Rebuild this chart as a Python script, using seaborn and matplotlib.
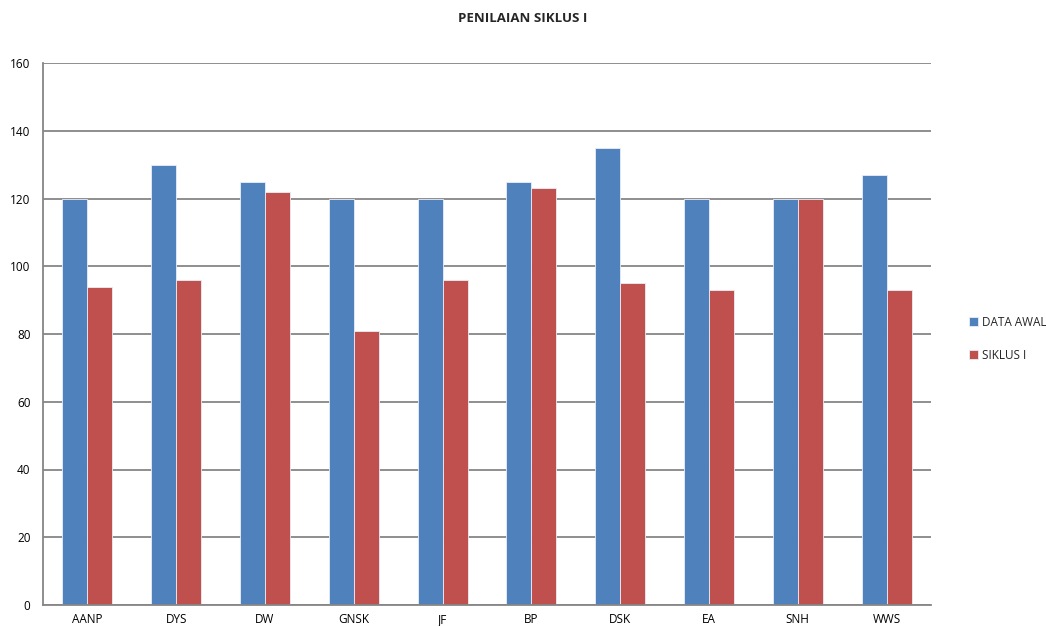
import matplotlib
matplotlib.use("Agg")
import matplotlib.pyplot as plt
import seaborn as sns
import pandas as pd

categories = ["AANP", "DYS", "DW", "GNSK", "JF", "BP", "DSK", "EA", "SNH", "WWS"]
data_awal = [120, 130, 125, 120, 120, 125, 135, 120, 120, 127]
siklus_i = [94, 96, 122, 81, 96, 123, 95, 93, 120, 93]
series_names = ["DATA AWAL", "SIKLUS I"]
colors = ["#4F81BD", "#C0504D"]

df = pd.DataFrame({
    "cat": categories * 2,
    "val": data_awal + siklus_i,
    "series": [series_names[0]] * len(categories) + [series_names[1]] * len(categories),
})

sns.set_style("white")
plt.rcParams["font.family"] = ["Open Sans", "DejaVu Sans"]

fig = plt.figure(figsize=(10.46, 6.26), dpi=100)
ax = fig.add_axes([43 / 1046, 1 - 605 / 626, 888 / 1046, 542 / 626])

sns.barplot(data=df, x="cat", y="val", hue="series", palette=colors, width=0.563,
            ax=ax, edgecolor="#E8EEF7", linewidth=0.6, saturation=1, legend=True)

ax.set_ylim(0, 160)
ax.set_yticks(range(0, 161, 20))
ax.set_xlim(-0.5, len(categories) - 0.5)
ax.set_xlabel("")
ax.set_ylabel("")
ax.yaxis.grid(True, color="#868686", linewidth=1.3)
ax.set_axisbelow(True)
for s in ["top", "right"]:
    ax.spines[s].set_visible(False)
for s in ["left", "bottom"]:
    ax.spines[s].set_color("#868686")
    ax.spines[s].set_linewidth(1.3)
ax.tick_params(axis="both", labelsize=8.5, colors="#000000", length=0)
ax.tick_params(axis="y", pad=9)
ax.tick_params(axis="x", pad=6)

fig.text(0.5, 1 - 18 / 626, "PENILAIAN SIKLUS I", ha="center", va="center",
         fontsize=9.5, fontweight="bold")

leg = ax.legend(loc="center left", bbox_to_anchor=(958 / 1046, 1 - 339 / 626),
                bbox_transform=fig.transFigure, frameon=False, fontsize=8.5,
                handlelength=0.8, handleheight=0.8, handletextpad=0.3,
                labelspacing=1.7)

fig.savefig("out.png", dpi=100)
